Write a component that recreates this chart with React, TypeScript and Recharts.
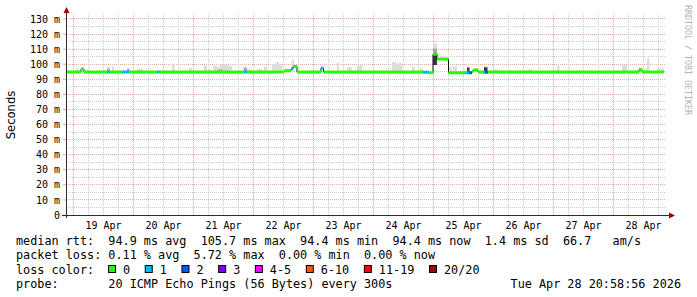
import { ComposedChart, Line, Area, XAxis, YAxis, CartesianGrid } from "recharts";

// time is in hours since 19 Apr 00:00
const T_START = -3;
const T_END = 237;

const dayLabels = ["19 Apr", "20 Apr", "21 Apr", "22 Apr", "23 Apr", "24 Apr", "25 Apr", "26 Apr", "27 Apr", "28 Apr"];
const yTicks = [0, 10, 20, 30, 40, 50, 60, 70, 80, 90, 100, 110, 120, 130];
const yMinorTicks = [5, 15, 25, 35, 45, 55, 65, 75, 85, 95, 105, 115, 125];

const lossLabels = ["0", "1", "2", "3", "4-5", "6-10", "11-19", "20/20"];
const lossColors = ["#26ff00", "#00b8ff", "#0059ff", "#7e00ff", "#ff00ff", "#ff5500", "#ff0000", "#a10000"];

// median rtt, stepped: segment start (h), value (ms), loss class
const medStart = [-3, 3.0, 4.2, 13.4, 14.4, 19.4, 22.2, 33.4, 34.4, 68.2, 69.4, 84.2, 87.0, 87.8, 89.4, 99.0, 100.0, 139.8, 142.2, 143.8, 145.4, 150.0, 157.0, 158.2, 159.4, 160.2, 161.8, 163.8, 164.6, 165.8, 226.2, 227.4];
const medValue = [94.9, 96.8, 94.9, 94.9, 94.9, 94.9, 94.9, 94.9, 94.9, 94.9, 94.9, 95.6, 97.0, 98.5, 94.9, 97.5, 94.9, 94.6, 94.3, 106.8, 103.5, 94.3, 94.3, 94.3, 95.5, 96.3, 94.9, 94.6, 94.6, 94.9, 96.5, 94.9];
const medLoss = [0, 0, 0, 1, 0, 1, 0, 1, 0, 1, 0, 0, 1, 0, 0, 1, 0, 1, 0, 0, 0, 0, 1, 2, 0, 0, 0, 1, 2, 0, 0, 0];
const medEnd = 236.2;

// smoke: [from h, to h, low ms, high ms]
const smokeLight: [number, number, number, number][] = [
  [1.0, 2.2, 94.5, 97], [5.4, 6.0, 94.5, 96.5], [13.4, 14.6, 94.5, 98.5], [15.4, 16.2, 94.5, 98.5],
  [21.4, 22.4, 94.5, 97.5], [25.4, 27.8, 94.5, 97], [39.4, 40.4, 94.5, 100], [46.2, 47.4, 94.5, 97.5],
  [52.2, 53.4, 94.5, 99], [53.8, 55.0, 94.5, 97], [55.8, 57.4, 94.5, 99], [57.4, 58.6, 94.5, 98],
  [58.6, 60.2, 94.5, 99.5], [60.2, 61.8, 94.5, 100], [61.8, 63.4, 94.5, 99], [67.8, 69.4, 94.5, 98.5],
  [69.4, 71.4, 94.5, 96.5], [73.4, 75.4, 94.5, 97], [76.2, 77.4, 94.5, 98.5], [79.4, 81.0, 94.5, 100],
  [81.0, 82.2, 94.5, 101.5], [82.2, 83.4, 94.5, 100], [87.4, 88.2, 94.5, 103], [105.4, 106.2, 94.5, 101],
  [109.4, 111.4, 94.5, 98], [113.4, 114.6, 94.5, 99], [114.6, 115.6, 94.5, 100], [127.4, 129.0, 94.5, 101.5],
  [129.0, 130.2, 94.5, 100.5], [130.2, 131.4, 94.5, 101], [135.4, 136.6, 94.5, 98], [138.6, 139.8, 94.5, 97],
  [143.8, 145.4, 99.5, 113.7], [150.2, 151.4, 94.5, 98], [151.8, 153.4, 94.5, 98.5], [157.4, 158.4, 94.5, 98.5],
  [164.2, 165.6, 94.5, 98.5], [167.8, 169.8, 94.5, 96.5], [173.8, 175.4, 94.5, 96], [181.8, 183.4, 94.5, 96.5],
  [193.4, 194.4, 94.5, 99], [219.4, 221.4, 94.5, 99.5], [227.8, 229.4, 94.5, 96.5], [229.4, 230.4, 94.5, 104],
  [233.4, 236.2, 94.5, 97],
];
const smokeMid: [number, number, number, number][] = [
  [13.4, 14.4, 94.5, 97], [21.4, 22.4, 94.5, 96.8], [57.8, 59.8, 94.5, 96.5], [68.2, 69.4, 94.5, 97.5],
  [143.8, 145.4, 99.5, 110.5],
];
const smokeDark: [number, number, number, number][] = [
  [143.8, 145.4, 99.5, 106], [157.4, 158.4, 94.5, 97.8], [164.2, 165.6, 94.5, 98],
];

function smokeRows(segs: [number, number, number, number][]) {
  const rows: { t: number; r: number[] | null }[] = [];
  segs.forEach(([a, b, lo, hi]) => {
    rows.push({ t: a, r: [lo, hi] }, { t: b, r: [lo, hi] }, { t: b, r: null });
  });
  return rows;
}

function segEnd(i: number) {
  return i + 1 < medStart.length ? medStart[i + 1] : medEnd;
}

function lossRows(k: number) {
  const rows: { t: number; v: number | null }[] = [];
  medStart.forEach((s, i) => {
    if (medLoss[i] !== k) return;
    rows.push({ t: s, v: medValue[i] }, { t: segEnd(i), v: medValue[i] }, { t: segEnd(i), v: null });
  });
  return rows;
}

const medianRows = [
  ...medStart.map((s, i) => ({ t: s, v: medValue[i] })),
  { t: medEnd, v: medValue[medValue.length - 1] },
];

const labelTicks = dayLabels.map((_, i) => i * 24 + 12);
const dayTicks = dayLabels.map((_, i) => i * 24);
const sixHourTicks = Array.from({ length: 40 }, (_, i) => i * 6).filter((h) => h % 24 !== 0);

const MONO = "'DejaVu Sans Mono', monospace";
const CH = 7.11; // legend char advance

// eslint-disable-next-line @typescript-eslint/no-explicit-any
function TimeTick({ x, y, payload }: any) {
  const label = dayLabels[Math.round((payload.value - 12) / 24)];
  return (
    <text x={x} y={y + 13.7} textAnchor="middle" fontFamily={MONO} fontSize={10} fill="#000">
      {label}
    </text>
  );
}

// eslint-disable-next-line @typescript-eslint/no-explicit-any
function ValueTick({ x, y, payload }: any) {
  const v = payload.value;
  return (
    <text x={x} y={y + 3.6} textAnchor="end" fontFamily={MONO} fontSize={10} fill="#000" style={{ whiteSpace: "pre" }}>
      {v === 0 ? "0" : `${v} m`}
    </text>
  );
}

function Overlay() {
  const base = [245.2, 259.4, 273.6, 287.8];
  const lx = 16;
  let bx = lx + 13 * CH - 0.4;
  const boxes = lossLabels.map((lab, i) => {
    const x = bx;
    bx += 15 + CH * lab.length + 14.6;
    return (
      <g key={lab}>
        <rect x={x + 0.5} y={265.5} width={7} height={7} fill={lossColors[i]} stroke="#000" strokeWidth={1} />
        <text x={x + 15} y={base[2]} fontFamily={MONO} fontSize={11.8} fill="#000">
          {lab}
        </text>
      </g>
    );
  });
  const pre = { whiteSpace: "pre" as const };
  return (
    <svg width={697} height={297} style={{ position: "absolute", left: 0, top: 0, pointerEvents: "none" }}>
      <line x1={66.5} y1={12} x2={66.5} y2={218} stroke="#2c2c2c" strokeWidth={1} />
      <line x1={62} y1={215.5} x2={670} y2={215.5} stroke="#2c2c2c" strokeWidth={1} />
      <polygon points="66.5,7 63.5,13 69.5,13" fill="#9a0000" />
      <polygon points="675,215.5 669,212.5 669,218.5" fill="#9a0000" />
      <text transform="translate(14.5,115) rotate(-90)" textAnchor="middle" fontFamily="'DejaVu Sans', sans-serif" fontSize={11.6} fill="#000">
        Seconds
      </text>
      <text transform="translate(684.5,5) rotate(90)" fontFamily={MONO} fontSize={8.3} fill="#b4b4b4" style={pre}>
        RRDTOOL / TOBI OETIKER
      </text>
      <text x={lx} y={base[0]} fontFamily={MONO} fontSize={11.8} fill="#000" style={pre}>
        {"median rtt:  94.9 ms avg  105.7 ms max  94.4 ms min  94.4 ms now  1.4 ms sd  66.7   am/s"}
      </text>
      <text x={lx} y={base[1]} fontFamily={MONO} fontSize={11.8} fill="#000" style={pre}>
        {"packet loss: 0.11 % avg  5.72 % max  0.00 % min  0.00 % now"}
      </text>
      <text x={lx} y={base[2]} fontFamily={MONO} fontSize={11.8} fill="#000" style={pre}>
        {"loss color:"}
      </text>
      {boxes}
      <text x={lx} y={base[3]} fontFamily={MONO} fontSize={11.8} fill="#000" style={pre}>
        {"probe:       20 ICMP Echo Pings (56 Bytes) every 300s"}
      </text>
      <text x={681} y={base[3]} textAnchor="end" fontFamily={MONO} fontSize={11.8} fill="#000" style={pre}>
        {"Tue Apr 28 20:58:56 2026"}
      </text>
    </svg>
  );
}

export default function App() {
  return (
    <div style={{ position: "absolute", left: 0, top: 0, width: 697, height: 297, background: "#fff" }}>
      <style>{".recharts-cartesian-grid line { shape-rendering: crispEdges; }"}</style>
      <ComposedChart width={697} height={297} margin={{ top: 14, right: 31, bottom: 62, left: 6 }}>
        <XAxis xAxisId="t" dataKey="t" type="number" domain={[T_START, T_END]} allowDataOverflow ticks={labelTicks} interval={0} tick={<TimeTick />} tickSize={0} tickMargin={0} axisLine={false} tickLine={false} height={20} />
        <YAxis yAxisId="y" type="number" domain={[0, 133.3]} allowDataOverflow ticks={yTicks} interval={0} tick={<ValueTick />} tickSize={3} tickMargin={3} axisLine={false} tickLine={{ stroke: "#e2a4a4" }} width={60} />
        <CartesianGrid xAxisId="t" yAxisId="y" horizontalValues={yMinorTicks} verticalValues={sixHourTicks} stroke="#cdcdcd" strokeDasharray="1 1" />
        <CartesianGrid xAxisId="t" yAxisId="y" horizontalValues={yTicks} verticalValues={dayTicks} stroke="#e6aaaa" strokeDasharray="1 1" />
        <Area xAxisId="t" yAxisId="y" data={smokeRows(smokeLight)} dataKey="r" type="stepAfter" fill="#dcdcdc" fillOpacity={1} stroke="none" isAnimationActive={false} />
        <Area xAxisId="t" yAxisId="y" data={smokeRows(smokeMid)} dataKey="r" type="stepAfter" fill="#a8a8a8" fillOpacity={1} stroke="none" isAnimationActive={false} />
        <Area xAxisId="t" yAxisId="y" data={smokeRows(smokeDark)} dataKey="r" type="stepAfter" fill="#3a3a3a" fillOpacity={1} stroke="none" isAnimationActive={false} />
        <Line xAxisId="t" yAxisId="y" data={medianRows} dataKey="v" type="stepAfter" stroke="#111" strokeWidth={1} dot={false} activeDot={false} isAnimationActive={false} />
        {lossColors.map((c, k) => {
          const rows = lossRows(k);
          if (!rows.length) return null;
          return (
            <Line key={k} xAxisId="t" yAxisId="y" data={rows} dataKey="v" type="stepAfter" stroke={c} strokeWidth={3} strokeLinecap="butt" dot={false} activeDot={false} connectNulls={false} isAnimationActive={false} />
          );
        })}
      </ComposedChart>
      <Overlay />
    </div>
  );
}
